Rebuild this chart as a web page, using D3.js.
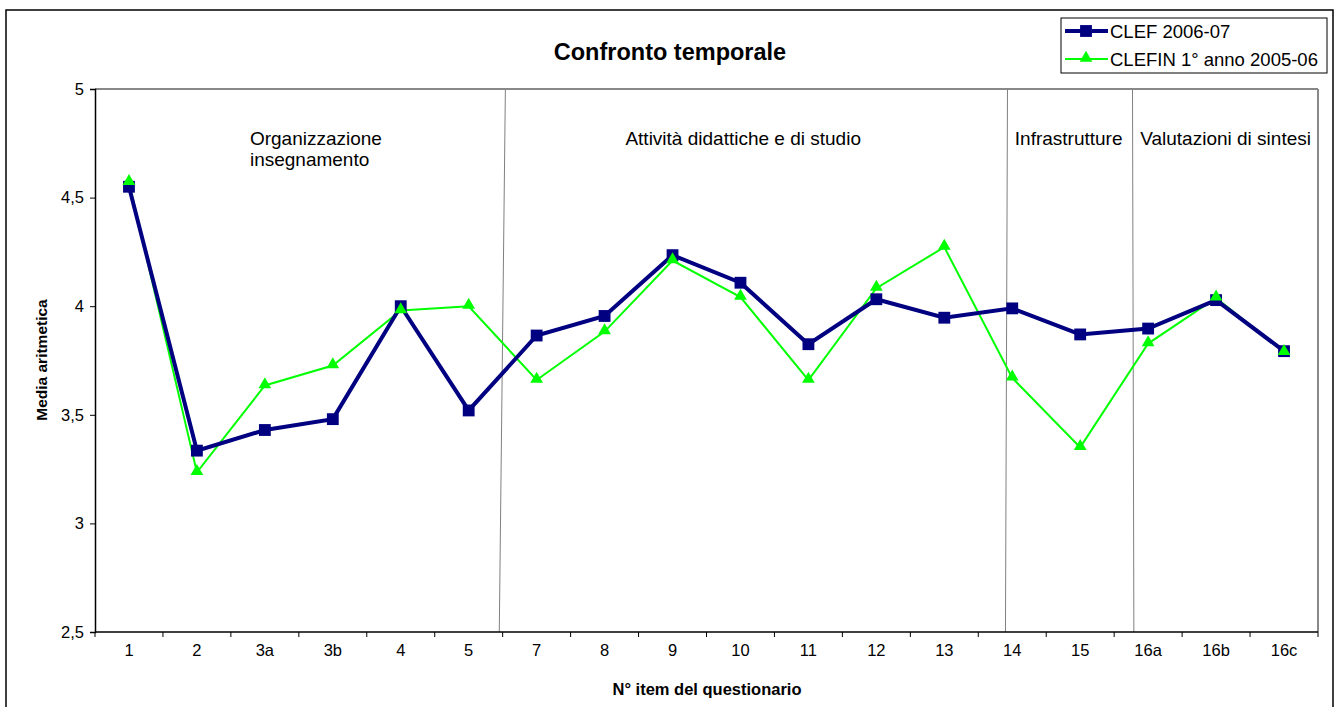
<!DOCTYPE html>
<html><head><meta charset="utf-8">
<script src="https://cdn.jsdelivr.net/npm/d3@7"></script>
<style>body{margin:0;background:#fff;font-family:"Liberation Sans",Arial,sans-serif;}</style>
</head><body><svg id="c" width="1339" height="707"></svg>
<script>
const categories = ["1","2","3a","3b","4","5","7","8","9","10","11","12","13","14","15","16a","16b","16c"];
const clef = [4.55,3.335,3.43,3.48,4.0,3.52,3.865,3.955,4.235,4.108,3.825,4.032,3.947,3.99,3.87,3.897,4.028,3.793];
const clefin = [4.57,3.235,3.635,3.727,3.98,4.0,3.66,3.883,4.21,4.042,3.66,4.083,4.272,3.67,3.35,3.828,4.038,3.788];
const yTicks = [2.5,3,3.5,4,4.5,5];
const seriesNames = ["CLEF 2006-07","CLEFIN 1° anno 2005-06"];
const sections = [
  {lines:["Organizzazione","insegnamento"], pos:2.28, anchor:"start"},
  {lines:["Attività didattiche e di studio"], pos:9.54, anchor:"middle"},
  {lines:["Infrastrutture"], pos:14.33, anchor:"middle"},
  {lines:["Valutazioni di sintesi"], pos:16.64, anchor:"middle"}
];
// separator lines in category units (top, bottom)
const separators = [[6.04,5.95],[13.43,13.40],[15.27,15.29]];

const svg = d3.select("#c");
const L=95, R=1318, T=89, B=632;
const x = d3.scaleBand().domain(categories).range([L,R]);
const xc = d3.scaleLinear().domain([0,categories.length]).range([L,R]);
const y = d3.scaleLinear().domain([2.5,5]).range([B,T]);

// outer border
svg.append("rect").attr("x",6).attr("y",10).attr("width",1327).attr("height",720)
  .attr("fill","none").attr("stroke","#000").attr("stroke-width",1.5);

// plot frame top/right gray
svg.append("line").attr("x1",L).attr("x2",R).attr("y1",T).attr("y2",T).attr("stroke","#888").attr("stroke-width",2);
svg.append("line").attr("x1",R).attr("x2",R).attr("y1",T).attr("y2",B).attr("stroke","#888").attr("stroke-width",2);

// separators
separators.forEach(s=>{
  svg.append("line").attr("x1",xc(s[0])).attr("y1",T).attr("x2",xc(s[1])).attr("y2",B)
    .attr("stroke","#808080").attr("stroke-width",1);
});

// y axis
const yAxis = d3.axisLeft(y).tickValues(yTicks).tickSize(5).tickPadding(6)
  .tickFormat(d=>String(d).replace(".",","));
const ga = svg.append("g").attr("transform",`translate(${L},0)`).call(yAxis);
ga.select(".domain").attr("stroke","#000").attr("stroke-width",1.5);
ga.selectAll("text").attr("font-family","Liberation Sans, Arial").attr("font-size",16.5).attr("fill","#000");

// x axis
const xb = d3.axisBottom(x).tickSize(0).tickPadding(12);
const gx = svg.append("g").attr("transform",`translate(0,${B})`).call(xb);
gx.select(".domain").remove();
gx.selectAll("text").attr("font-family","Liberation Sans, Arial").attr("font-size",16.5).attr("fill","#000");
svg.append("line").attr("x1",L).attr("x2",R).attr("y1",B).attr("y2",B).attr("stroke","#000").attr("stroke-width",1.5);
d3.range(categories.length+1).forEach(i=>{
  svg.append("line").attr("x1",xc(i)).attr("x2",xc(i)).attr("y1",B).attr("y2",B+5).attr("stroke","#000").attr("stroke-width",1);
});

// section labels
sections.forEach(s=>{
  const t = svg.append("text").attr("x",xc(s.pos)).attr("y",145).attr("text-anchor",s.anchor)
    .attr("font-size",19).attr("fill","#000");
  s.lines.forEach((ln,i)=>t.append("tspan").attr("x",xc(s.pos)).attr("dy",i?21:0).text(ln));
});

// lines
const cx = d=>x(d)+x.bandwidth()/2;
const line = d3.line().x((d,i)=>cx(categories[i])).y(d=>y(d));
svg.append("path").datum(clefin).attr("d",line).attr("fill","none").attr("stroke","#00ff00").attr("stroke-width",2);
svg.append("path").datum(clef).attr("d",line).attr("fill","none").attr("stroke","#000080").attr("stroke-width",4);

const sq = d3.symbol().type(d3.symbolSquare).size(140);
const tri = d3.symbol().type(d3.symbolTriangle).size(70);
svg.append("g").selectAll("path").data(clef).join("path")
  .attr("d",sq).attr("transform",(d,i)=>`translate(${cx(categories[i])},${y(d)})`).attr("fill","#000080");
svg.append("g").selectAll("path").data(clefin).join("path")
  .attr("d",tri).attr("transform",(d,i)=>`translate(${cx(categories[i])},${y(d)-1})`).attr("fill","#00ff00");

// title
svg.append("text").attr("x",670).attr("y",60).attr("text-anchor","middle").attr("font-weight","bold")
  .attr("font-size",23.5).text("Confronto temporale");
// axis titles
svg.append("text").attr("transform","translate(47,360) rotate(-90)").attr("text-anchor","middle")
  .attr("font-weight","bold").attr("font-size",15.5).text("Media aritmetica");
svg.append("text").attr("x",707).attr("y",695).attr("text-anchor","middle")
  .attr("font-weight","bold").attr("font-size",16.5).text("N° item del questionario");

// legend
const lg = svg.append("g");
lg.append("rect").attr("x",1061).attr("y",18).attr("width",266).attr("height",55).attr("fill","#fff").attr("stroke","#000").attr("stroke-width",1);
const legY=[31,59];
lg.append("line").attr("x1",1065).attr("x2",1108).attr("y1",legY[0]).attr("y2",legY[0]).attr("stroke","#000080").attr("stroke-width",4);
lg.append("path").attr("d",sq).attr("transform",`translate(1086,${legY[0]})`).attr("fill","#000080");
lg.append("line").attr("x1",1065).attr("x2",1108).attr("y1",legY[1]).attr("y2",legY[1]).attr("stroke","#00ff00").attr("stroke-width",2);
lg.append("path").attr("d",tri).attr("transform",`translate(1086,${legY[1]-1})`).attr("fill","#00ff00");
seriesNames.forEach((n,i)=>{
  lg.append("text").attr("x",1110).attr("y",legY[i]+6.5).attr("font-size",18.5).attr("fill","#000").text(n);
});
</script></body></html>
